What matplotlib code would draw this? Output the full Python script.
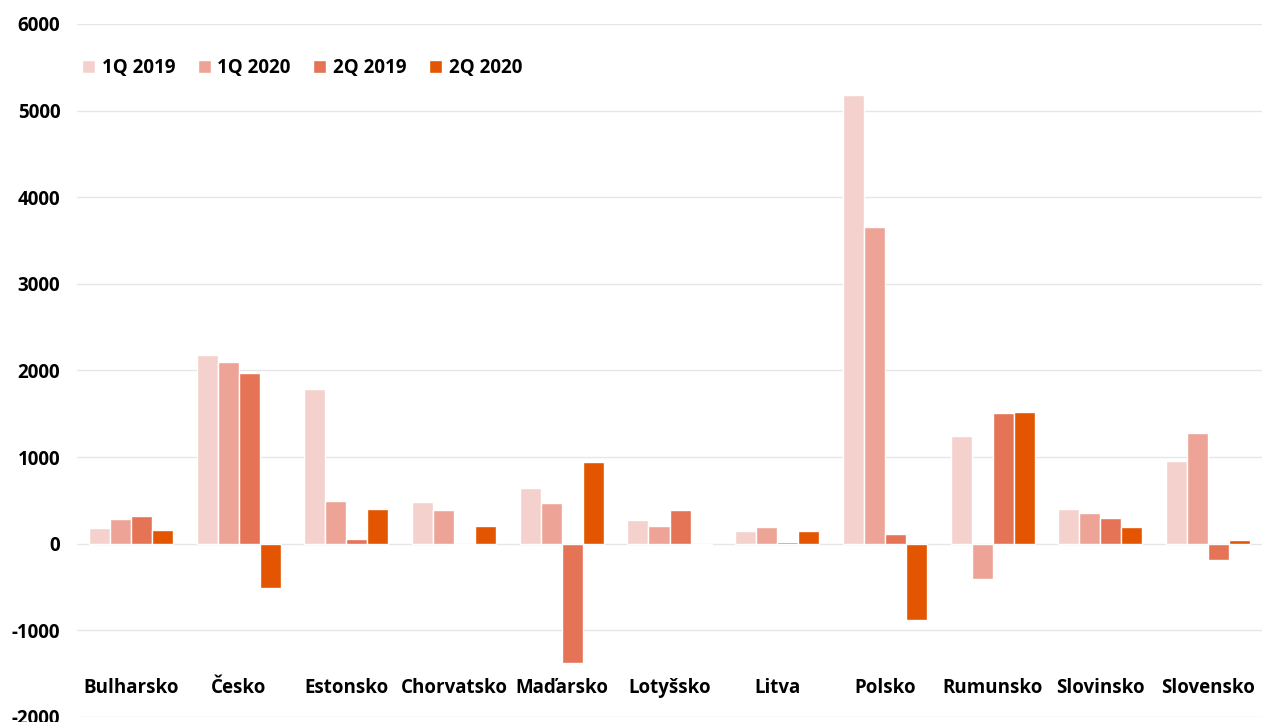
import numpy as np
import matplotlib.pyplot as plt

plt.rcParams['font.family'] = ['Open Sans', 'DejaVu Sans']
plt.rcParams['font.weight'] = 'bold'

countries = ['Bulharsko', 'Česko', 'Estonsko', 'Chorvatsko', 'Maďarsko', 'Lotyšsko',
             'Litva', 'Polsko', 'Rumunsko', 'Slovinsko', 'Slovensko']
series_names = ['1Q 2019', '1Q 2020', '2Q 2019', '2Q 2020']
q1_2019 = [185, 2175, 1790, 480, 640, 270, 146, 5180, 1240, 400, 953]
q1_2020 = [288, 2100, 488, 385, 465, 200, 188, 3660, -404, 358, 1273]
q2_2019 = [323, 1970, 50, -10, -1375, 392, 18, 107, 1515, 296, -189]
q2_2020 = [154, -512, 400, 203, 942, -15, 142, -885, 1523, 188, 46]
yticks = [-2000, -1000, 0, 1000, 2000, 3000, 4000, 5000, 6000]

colors = ['#F4D1CC', '#EDA396', '#E57356', '#E35500']

fig = plt.figure(figsize=(12.62, 7.22), dpi=100)
ax = fig.add_axes([77 / 1262, 5 / 722, 1185 / 1262, 693 / 722])

x = np.arange(len(countries))
w = 0.195
for i, (vals, name) in enumerate(zip([q1_2019, q1_2020, q2_2019, q2_2020], series_names)):
    ax.bar(x + (i - 1.5) * w, vals, width=w, color=colors[i], edgecolor='white',
           linewidth=1, label=name, zorder=3)

ax.set_xlim(-0.5, len(countries) - 0.5)
ax.set_ylim(-2000, 6000)
ax.set_yticks(yticks)
ax.set_yticklabels([str(v) for v in yticks], fontsize=13.5, fontweight='bold')
ax.tick_params(axis='y', length=0, pad=12)
ax.set_xticks([])
ax.grid(axis='y', color='#E6E6E6', linewidth=1, zorder=0)
for s in ax.spines.values():
    s.set_visible(False)

# category names sit inside the plot, near the bottom
for xi, name in zip(x, countries):
    ax.text(xi, -1660, name, ha='center', va='center', fontsize=13.5, fontweight='bold')

leg = ax.legend(loc='upper left', bbox_to_anchor=(-0.01, 0.975), ncol=4, frameon=False,
                handlelength=0.7, handleheight=0.7, handletextpad=0.35,
                columnspacing=1.2, prop={'size': 13.5, 'weight': 'bold'})

fig.savefig('out.png', dpi=100)
